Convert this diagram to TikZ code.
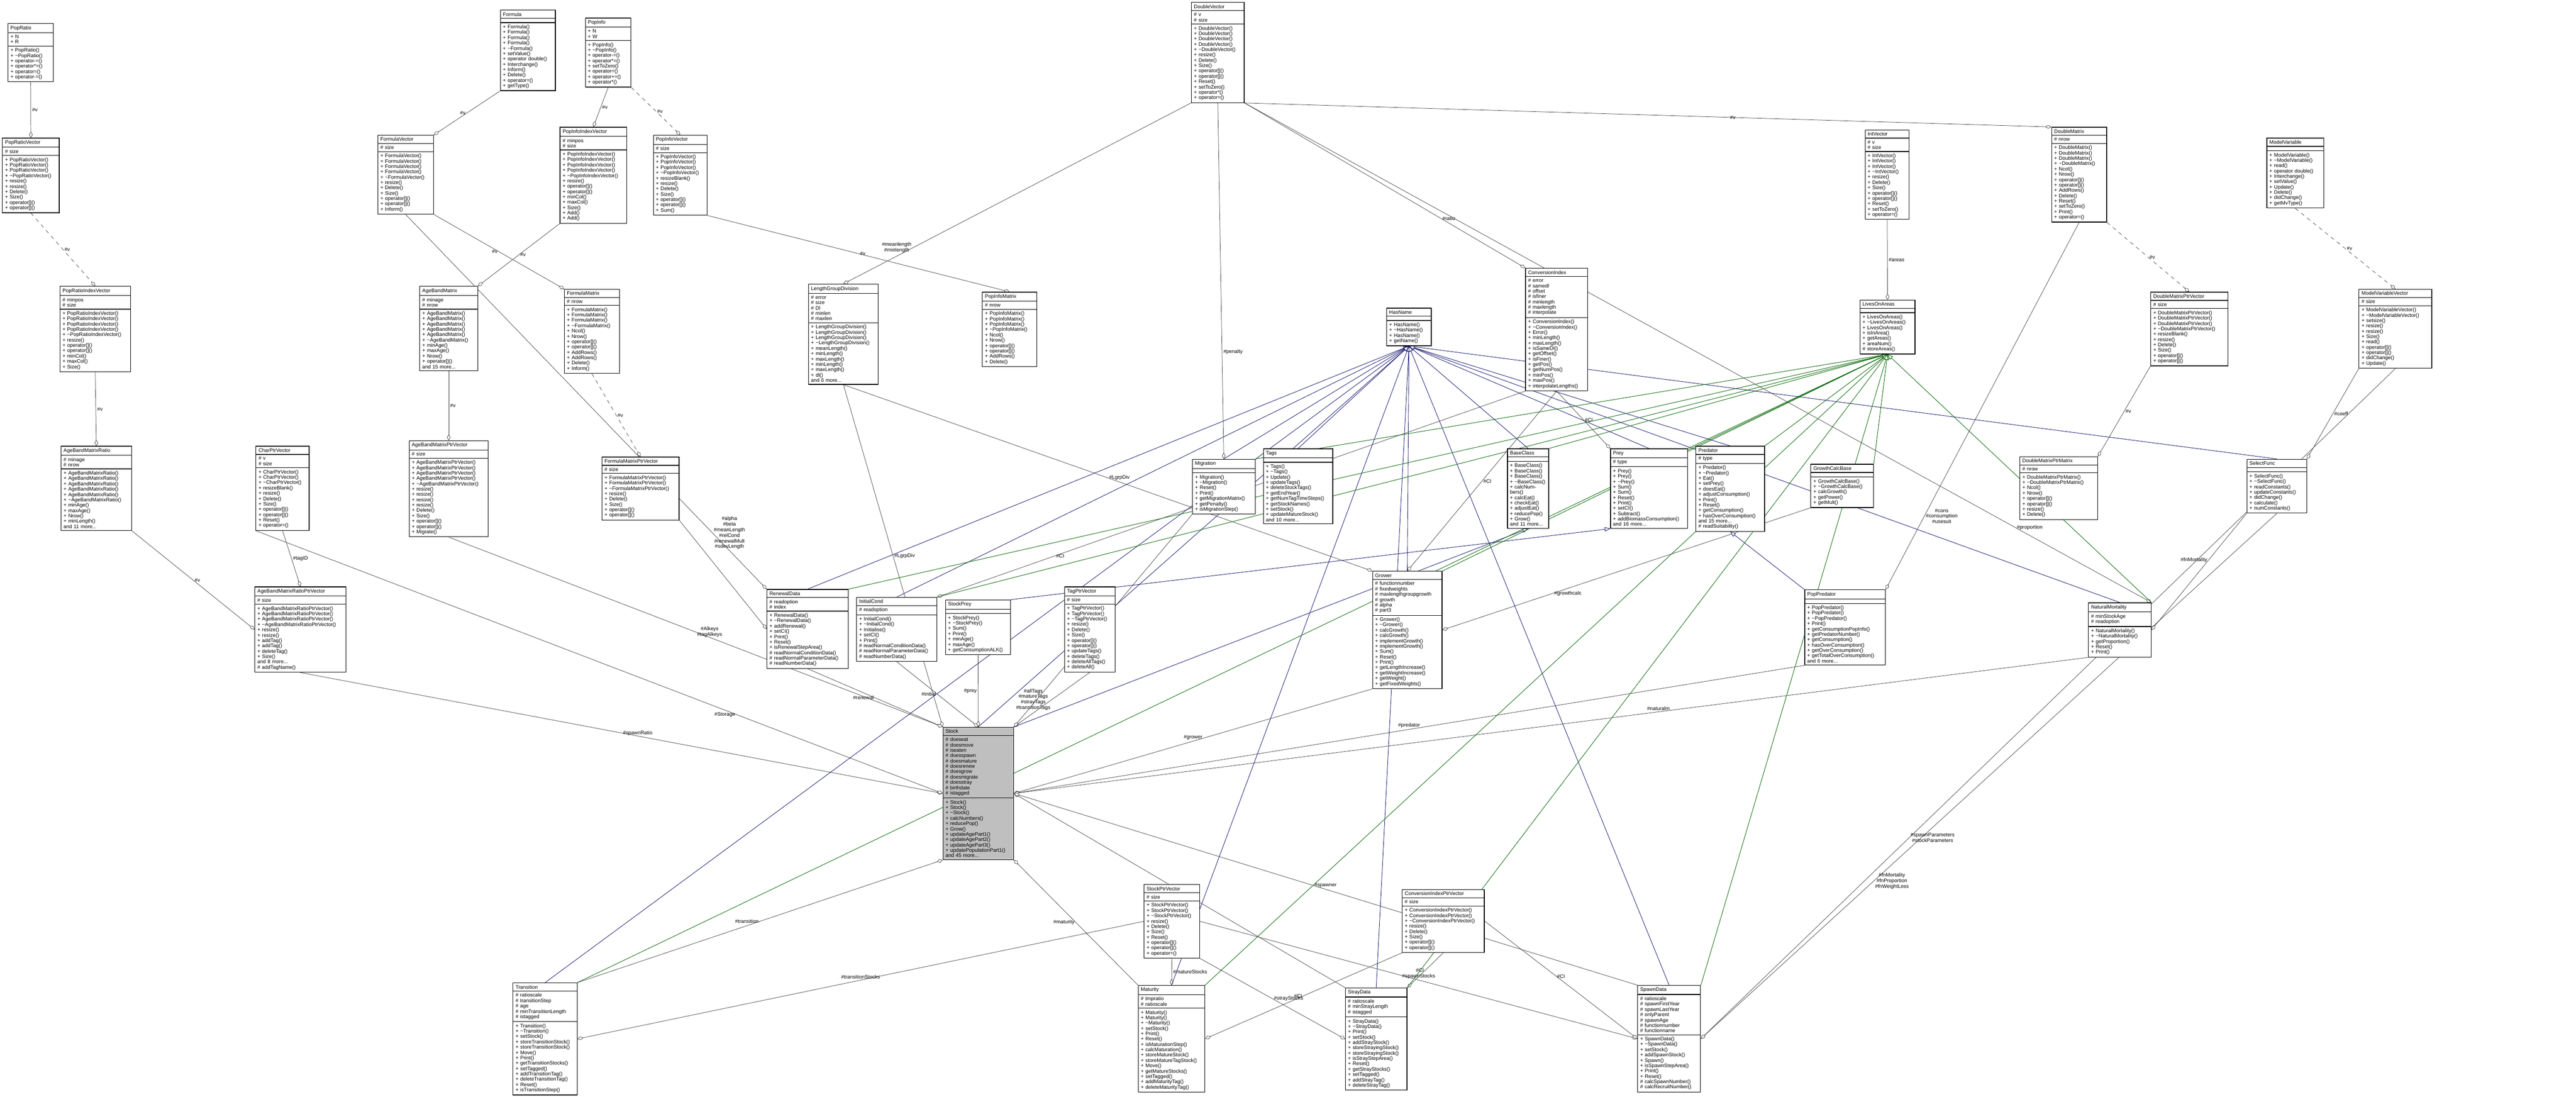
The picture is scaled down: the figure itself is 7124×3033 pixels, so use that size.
\documentclass[tikz,border=0pt]{standalone}
\usepackage{fontspec}
\setmainfont{Liberation Sans}
\usetikzlibrary{shapes.multipart,arrows.meta,backgrounds}
\newlength\pxu \setlength\pxu{0.01cm}
\definecolor{edgec}{HTML}{404040}
\definecolor{inhb}{HTML}{191970}
\definecolor{inhg}{HTML}{006400}
\definecolor{stockfill}{HTML}{BFBFBF}
\tikzset{
 umlcls/.style={draw=black, line width=0.5pt, fill=white, rectangle split, rectangle split parts=3, anchor=north west, inner xsep=2pt, inner ysep=1.5pt, font=\fontsize{4}{4.2}\selectfont},
 agg/.style={draw=edgec, line width=0.3pt, -{Diamond[open,fill=white,length=0.17cm,width=0.1cm]}},
 aggd/.style={agg, dashed},
 inhB/.style={draw=inhb, line width=0.35pt, -{Triangle[open,fill=white,length=0.15cm,width=0.12cm]}},
 inhG/.style={draw=inhg, line width=0.35pt, -{Triangle[open,fill=white,length=0.15cm,width=0.12cm]}},
 lbl/.style={font=\fontsize{4}{4.4}\selectfont, align=center, inner sep=1pt}
}
\newcommand\umlbox[8][]{\node[umlcls,#1,text width=#5\pxu] (#2) at (#3,#4) {\centering #6\nodepart{two}#7\nodepart{three}#8};}
\begin{document}
\begin{tikzpicture}[x=0.01cm,y=-0.01cm]
\useasboundingbox (0,0) rectangle (7124,3033);
% ---------------- classes ----------------
\umlbox{PopRatio}{21}{64}{112}{PopRatio}{+ N\\+ R}{+ PopRatio()\\+ \textasciitilde PopRatio()\\+ operator-=()\\+ operator*=()\\+ operator=()\\+ operator-=()}
\umlbox{Formula}{1383}{27}{138}{Formula}{~}{+ Formula()\\+ Formula()\\+ Formula()\\+ Formula()\\+ \textasciitilde Formula()\\+ setValue()\\+ operator double()\\+ Interchange()\\+ Inform()\\+ Delete()\\+ operator=()\\+ getType()}
\umlbox{PopInfo}{1618}{49}{112}{PopInfo}{+ N\\+ W}{+ PopInfo()\\+ \textasciitilde PopInfo()\\+ operator-=()\\+ operator*=()\\+ setToZero()\\+ operator=()\\+ operator+=()\\+ operator*()}
\umlbox{PopRatioVector}{6}{381}{143}{PopRatioVector}{\# size}{+ PopRatioVector()\\+ PopRatioVector()\\+ PopRatioVector()\\+ \textasciitilde PopRatioVector()\\+ resize()\\+ resize()\\+ Delete()\\+ Size()\\+ operator[]()\\+ operator[]()}
\umlbox{FormulaVector}{1044}{373}{140}{FormulaVector}{\# size}{+ FormulaVector()\\+ FormulaVector()\\+ FormulaVector()\\+ FormulaVector()\\+ \textasciitilde FormulaVector()\\+ resize()\\+ Delete()\\+ Size()\\+ operator[]()\\+ operator[]()\\+ Inform()}
\umlbox{PopInfoIndexVector}{1548}{351}{170}{PopInfoIndexVector}{\# minpos\\\# size}{+ PopInfoIndexVector()\\+ PopInfoIndexVector()\\+ PopInfoIndexVector()\\+ PopInfoIndexVector()\\+ \textasciitilde PopInfoIndexVector()\\+ resize()\\+ operator[]()\\+ operator[]()\\+ minCol()\\+ maxCol()\\+ Size()\\+ Add()\\+ Add()}
\umlbox{PopInfoVector}{1806}{373}{135}{PopInfoVector}{\# size}{+ PopInfoVector()\\+ PopInfoVector()\\+ PopInfoVector()\\+ \textasciitilde PopInfoVector()\\+ resizeBlank()\\+ resize()\\+ Delete()\\+ Size()\\+ operator[]()\\+ operator[]()\\+ Sum()}
\umlbox{PopRatioIndexVector}{165}{791}{181}{PopRatioIndexVector}{\# minpos\\\# size}{+ PopRatioIndexVector()\\+ PopRatioIndexVector()\\+ PopRatioIndexVector()\\+ PopRatioIndexVector()\\+ \textasciitilde PopRatioIndexVector()\\+ resize()\\+ operator[]()\\+ operator[]()\\+ minCol()\\+ maxCol()\\+ Size()}
\umlbox{AgeBandMatrix}{1160}{791}{146}{AgeBandMatrix}{\# minage\\\# nrow}{+ AgeBandMatrix()\\+ AgeBandMatrix()\\+ AgeBandMatrix()\\+ AgeBandMatrix()\\+ AgeBandMatrix()\\+ \textasciitilde AgeBandMatrix()\\+ minAge()\\+ maxAge()\\+ Nrow()\\+ operator[]()\\and 15 more...}
\umlbox{FormulaMatrix}{1560}{799}{138}{FormulaMatrix}{\# nrow}{+ FormulaMatrix()\\+ FormulaMatrix()\\+ FormulaMatrix()\\+ \textasciitilde FormulaMatrix()\\+ Ncol()\\+ Nrow()\\+ operator[]()\\+ operator[]()\\+ AddRows()\\+ AddRows()\\+ Delete()\\+ Inform()}
\umlbox{LengthGroupDivision}{2235}{785}{179}{LengthGroupDivision}{\# error\\\# size\\\# Dl\\\# minlen\\\# maxlen}{+ LengthGroupDivision()\\+ LengthGroupDivision()\\+ LengthGroupDivision()\\+ \textasciitilde LengthGroupDivision()\\+ meanLength()\\+ minLength()\\+ maxLength()\\+ minLength()\\+ maxLength()\\+ dl()\\and 6 more...}
\umlbox{DoubleVector}{3294}{6}{132}{DoubleVector}{\# v\\\# size}{+ DoubleVector()\\+ DoubleVector()\\+ DoubleVector()\\+ DoubleVector()\\+ \textasciitilde DoubleVector()\\+ resize()\\+ Delete()\\+ Size()\\+ operator[]()\\+ operator[]()\\+ Reset()\\+ setToZero()\\+ operator*()\\+ operator=()}
\umlbox{PopInfoMatrix}{2716}{807}{136}{PopInfoMatrix}{\# nrow}{+ PopInfoMatrix()\\+ PopInfoMatrix()\\+ PopInfoMatrix()\\+ \textasciitilde PopInfoMatrix()\\+ Ncol()\\+ Nrow()\\+ operator[]()\\+ operator[]()\\+ AddRows()\\+ Delete()}
\umlbox{HasName}{3834}{851}{109}{HasName}{~}{+ HasName()\\+ \textasciitilde HasName()\\+ HasName()\\+ getName()}
\umlbox{ConversionIndex}{4218}{741}{158}{ConversionIndex}{\# error\\\# samedl\\\# offset\\\# isfiner\\\# minlength\\\# maxlength\\\# interpolate}{+ ConversionIndex()\\+ \textasciitilde ConversionIndex()\\+ Error()\\+ minLength()\\+ maxLength()\\+ isSameDl()\\+ getOffset()\\+ isFiner()\\+ getPos()\\+ getNumPos()\\+ minPos()\\+ maxPos()\\+ interpolateLengths()}
\umlbox{IntVector}{5157}{359}{108}{IntVector}{\# v\\\# size}{+ IntVector()\\+ IntVector()\\+ IntVector()\\+ \textasciitilde IntVector()\\+ resize()\\+ Delete()\\+ Size()\\+ operator[]()\\+ operator[]()\\+ Reset()\\+ setToZero()\\+ operator=()}
\umlbox{DoubleMatrix}{5673}{351}{138}{DoubleMatrix}{\# nrow}{+ DoubleMatrix()\\+ DoubleMatrix()\\+ DoubleMatrix()\\+ \textasciitilde DoubleMatrix()\\+ Ncol()\\+ Nrow()\\+ operator[]()\\+ operator[]()\\+ AddRows()\\+ Delete()\\+ Reset()\\+ setToZero()\\+ Print()\\+ operator=()}
\umlbox{ModelVariable}{6268}{381}{143}{ModelVariable}{~}{+ ModelVariable()\\+ \textasciitilde ModelVariable()\\+ read()\\+ operator double()\\+ Interchange()\\+ setValue()\\+ Update()\\+ Delete()\\+ didChange()\\+ getMvType()}
\umlbox{LivesOnAreas}{5143}{829}{138}{LivesOnAreas}{~}{+ LivesOnAreas()\\+ \textasciitilde LivesOnAreas()\\+ LivesOnAreas()\\+ isInArea()\\+ getAreas()\\+ areaNum()\\\# storeAreas()}
\umlbox{DoubleMatrixPtrVector}{5947}{807}{199}{DoubleMatrixPtrVector}{\# size}{+ DoubleMatrixPtrVector()\\+ DoubleMatrixPtrVector()\\+ DoubleMatrixPtrVector()\\+ \textasciitilde DoubleMatrixPtrVector()\\+ resizeBlank()\\+ resize()\\+ Delete()\\+ Size()\\+ operator[]()\\+ operator[]()}
\umlbox{ModelVariableVector}{6523}{799}{187}{ModelVariableVector}{\# size}{+ ModelVariableVector()\\+ \textasciitilde ModelVariableVector()\\+ setsize()\\+ resize()\\+ resize()\\+ Size()\\+ read()\\+ operator[]()\\+ operator[]()\\+ didChange()\\+ Update()}
\umlbox{AgeBandMatrixRatio}{168}{1233}{181}{AgeBandMatrixRatio}{\# minage\\\# nrow}{+ AgeBandMatrixRatio()\\+ AgeBandMatrixRatio()\\+ AgeBandMatrixRatio()\\+ AgeBandMatrixRatio()\\+ AgeBandMatrixRatio()\\+ \textasciitilde AgeBandMatrixRatio()\\+ minAge()\\+ maxAge()\\+ Nrow()\\+ minLength()\\and 11 more...}
\umlbox{CharPtrVector}{707}{1233}{133}{CharPtrVector}{\# v\\\# size}{+ CharPtrVector()\\+ CharPtrVector()\\+ \textasciitilde CharPtrVector()\\+ resizeBlank()\\+ resize()\\+ Delete()\\+ Size()\\+ operator[]()\\+ operator[]()\\+ Reset()\\+ operator=()}
\umlbox{AgeBandMatrixPtrVector}{1131}{1218}{204}{AgeBandMatrixPtrVector}{\# size}{+ AgeBandMatrixPtrVector()\\+ AgeBandMatrixPtrVector()\\+ AgeBandMatrixPtrVector()\\+ AgeBandMatrixPtrVector()\\+ \textasciitilde AgeBandMatrixPtrVector()\\+ resize()\\+ resize()\\+ resize()\\+ resize()\\+ Delete()\\+ Size()\\+ operator[]()\\+ operator[]()\\+ Migrate()}
\umlbox{FormulaMatrixPtrVector}{1664}{1263}{199}{FormulaMatrixPtrVector}{\# size}{+ FormulaMatrixPtrVector()\\+ FormulaMatrixPtrVector()\\+ \textasciitilde FormulaMatrixPtrVector()\\+ resize()\\+ Delete()\\+ Size()\\+ operator[]()\\+ operator[]()}
\umlbox{AgeBandMatrixRatioPtrVector}{704}{1622}{238}{AgeBandMatrixRatioPtrVector}{\# size}{+ AgeBandMatrixRatioPtrVector()\\+ AgeBandMatrixRatioPtrVector()\\+ AgeBandMatrixRatioPtrVector()\\+ \textasciitilde AgeBandMatrixRatioPtrVector()\\+ resize()\\+ resize()\\+ addTag()\\+ addTag()\\+ deleteTag()\\+ Size()\\and 8 more...\\\# addTagName()}
\umlbox{RenewalData}{2120}{1629}{211}{RenewalData}{\# readoption\\\# index}{+ RenewalData()\\+ \textasciitilde RenewalData()\\+ addRenewal()\\+ setCI()\\+ Print()\\+ Reset()\\+ isRenewalStepArea()\\\# readNormalConditionData()\\\# readNormalParameterData()\\\# readNumberData()}
\umlbox{InitialCond}{2368}{1651}{208}{InitialCond}{\# readoption}{+ InitialCond()\\+ \textasciitilde InitialCond()\\+ Initialise()\\+ setCI()\\+ Print()\\\# readNormalConditionData()\\\# readNormalParameterData()\\\# readNumberData()}
\umlbox{StockPrey}{2614}{1658}{166}{StockPrey}{~}{+ StockPrey()\\+ \textasciitilde StockPrey()\\+ Sum()\\+ Print()\\+ minAge()\\+ maxAge()\\+ getConsumptionALK()}
\umlbox{TagPtrVector}{2943}{1622}{126}{TagPtrVector}{\# size}{+ TagPtrVector()\\+ TagPtrVector()\\+ \textasciitilde TagPtrVector()\\+ resize()\\+ Delete()\\+ Size()\\+ operator[]()\\+ operator[]()\\+ updateTags()\\+ deleteTags()\\+ deleteAllTags()\\+ deleteAll()}
\umlbox{Migration}{3297}{1269}{159}{Migration}{~}{+ Migration()\\+ \textasciitilde Migration()\\+ Reset()\\+ Print()\\+ getMigrationMatrix()\\+ getPenalty()\\+ isMigrationStep()}
\umlbox{Tags}{3493}{1240}{178}{Tags}{~}{+ Tags()\\+ \textasciitilde Tags()\\+ Update()\\+ updateTags()\\+ deleteStockTags()\\+ getEndYear()\\+ getNumTagTimeSteps()\\+ getStockNames()\\+ setStock()\\+ updateMatureStock()\\and 10 more...}
\umlbox{BaseClass}{4168}{1240}{100}{BaseClass}{~}{+ BaseClass()\\+ BaseClass()\\+ BaseClass()\\+ \textasciitilde BaseClass()\\+ calcNumbers()\\+ calcEat()\\+ checkEat()\\+ adjustEat()\\+ reducePop()\\+ Grow()\\and 11 more...}
\umlbox{Prey}{4453}{1240}{199}{Prey}{\# type}{+ Prey()\\+ Prey()\\+ \textasciitilde Prey()\\+ Sum()\\+ Sum()\\+ Reset()\\+ Print()\\+ setCI()\\+ Subtract()\\+ addBiomassConsumption()\\and 16 more...}
\umlbox{Predator}{4689}{1233}{176}{Predator}{\# type}{+ Predator()\\+ \textasciitilde Predator()\\+ Eat()\\+ setPrey()\\+ doesEat()\\+ adjustConsumption()\\+ Print()\\+ Reset()\\+ getConsumption()\\+ hasOverConsumption()\\and 15 more...\\\# readSuitability()}
\umlbox{Grower}{3795}{1579}{178}{Grower}{\# functionnumber\\\# fixedweights\\\# maxlengthgroupgrowth\\\# growth\\\# alpha\\\# part3}{+ Grower()\\+ \textasciitilde Grower()\\+ calcGrowth()\\+ calcGrowth()\\+ implementGrowth()\\+ implementGrowth()\\+ Sum()\\+ Reset()\\+ Print()\\+ getLengthIncrease()\\+ getWeightIncrease()\\+ getWeight()\\+ getFixedWeights()}
\umlbox{GrowthCalcBase}{5007}{1283}{159}{GrowthCalcBase}{~}{+ GrowthCalcBase()\\+ \textasciitilde GrowthCalcBase()\\+ calcGrowth()\\+ getPower()\\+ getMult()}
\umlbox{DoubleMatrixPtrMatrix}{5585}{1262}{201}{DoubleMatrixPtrMatrix}{\# nrow}{+ DoubleMatrixPtrMatrix()\\+ \textasciitilde DoubleMatrixPtrMatrix()\\+ Ncol()\\+ Nrow()\\+ operator[]()\\+ operator[]()\\+ resize()\\+ Delete()}
\umlbox{SelectFunc}{6213}{1269}{151}{SelectFunc}{~}{+ SelectFunc()\\+ \textasciitilde SelectFunc()\\+ readConstants()\\+ updateConstants()\\+ didChange()\\+ calculate()\\+ numConstants()}
\umlbox{PopPredator}{4990}{1630}{209}{PopPredator}{~}{+ PopPredator()\\+ PopPredator()\\+ \textasciitilde PopPredator()\\+ Print()\\+ getConsumptionPopInfo()\\+ getPredatorNumber()\\+ getConsumption()\\+ hasOverConsumption()\\+ getOverConsumption()\\+ getTotalOverConsumption()\\and 6 more...}
\umlbox{NaturalMortality}{5775}{1666}{159}{NaturalMortality}{\# minStockAge\\\# readoption}{+ NaturalMortality()\\+ \textasciitilde NaturalMortality()\\+ getProportion()\\+ Reset()\\+ Print()}
\umlbox[fill=stockfill]{Stock}{2607}{2010}{181}{Stock}{\# doeseat\\\# doesmove\\\# iseaten\\\# doesspawn\\\# doesmature\\\# doesrenew\\\# doesgrow\\\# doesmigrate\\\# doesstray\\\# birthdate\\\# istagged}{+ Stock()\\+ Stock()\\+ \textasciitilde Stock()\\+ calcNumbers()\\+ reducePop()\\+ Grow()\\+ updateAgePart1()\\+ updateAgePart2()\\+ updateAgePart3()\\+ updatePopulationPart1()\\and 45 more...}
\umlbox{StockPtrVector}{3163}{2445}{140}{StockPtrVector}{\# size}{+ StockPtrVector()\\+ StockPtrVector()\\+ \textasciitilde StockPtrVector()\\+ resize()\\+ Delete()\\+ Size()\\+ Reset()\\+ operator[]()\\+ operator[]()\\+ operator=()}
\umlbox{ConversionIndexPtrVector}{3877}{2459}{213}{ConversionIndexPtrVector}{\# size}{+ ConversionIndexPtrVector()\\+ ConversionIndexPtrVector()\\+ \textasciitilde ConversionIndexPtrVector()\\+ resize()\\+ Delete()\\+ Size()\\+ operator[]()\\+ operator[]()}
\umlbox{Transition}{1418}{2717}{163}{Transition}{\# ratioscale\\\# transitionStep\\\# age\\\# minTransitionLength\\\# istagged}{+ Transition()\\+ \textasciitilde Transition()\\+ setStock()\\+ storeTransitionStock()\\+ storeTransitionStock()\\+ Move()\\+ Print()\\+ getTransitionStocks()\\+ setTagged()\\+ addTransitionTag()\\+ deleteTransitionTag()\\+ Reset()\\+ isTransitionStep()}
\umlbox{Maturity}{3147}{2724}{170}{Maturity}{\# tmpratio\\\# ratioscale}{+ Maturity()\\+ Maturity()\\+ \textasciitilde Maturity()\\+ setStock()\\+ Print()\\+ Reset()\\+ isMaturationStep()\\+ calcMaturation()\\+ storeMatureStock()\\+ storeMatureTagStock()\\+ Move()\\+ getMatureStocks()\\+ setTagged()\\+ addMaturityTag()\\+ deleteMaturityTag()}
\umlbox{StrayData}{3720}{2731}{156}{StrayData}{\# ratioscale\\\# minStrayLength\\\# istagged}{+ StrayData()\\+ \textasciitilde StrayData()\\+ Print()\\+ setStock()\\+ addStrayStock()\\+ storeStrayingStock()\\+ storeStrayingStock()\\+ isStrayStepArea()\\+ Reset()\\+ getStrayStocks()\\+ setTagged()\\+ addStrayTag()\\+ deleteStrayTag()}
\umlbox{SpawnData}{4528}{2724}{160}{SpawnData}{\# ratioscale\\\# spawnFirstYear\\\# spawnLastYear\\\# onlyParent\\\# spawnAge\\\# functionnumber\\\# functionname}{+ SpawnData()\\+ \textasciitilde SpawnData()\\+ setStock()\\+ addSpawnStock()\\+ Spawn()\\+ isSpawnStepArea()\\+ Print()\\+ Reset()\\\# calcSpawnNumber()\\\# calcRecruitNumber()}
\begin{scope}[on background layer]
\fill[white] (0,0) rectangle (7124,3033);
% ---------------- template / container edges ----------------
\draw[agg] (PopRatio.south) -- node[lbl,right]{\#v} (PopRatioVector.north);
\draw[aggd] (PopRatioVector.south) -- node[lbl,right]{\#v} (PopRatioIndexVector.north);
\draw[agg] (PopRatioIndexVector.south) -- node[lbl,right]{\#v} (AgeBandMatrixRatio.north);
\draw[agg] (Formula.south west) -- node[lbl,left]{\#v} (FormulaVector.north east);
\draw[agg] (PopInfo.south) -- node[lbl,right]{\#v} (PopInfoIndexVector.north);
\draw[aggd] (PopInfo.south east) -- node[lbl,right]{\#v} (PopInfoVector.north);
\draw[agg] (PopInfoIndexVector.south west) -- node[lbl,right]{\#v} (AgeBandMatrix.north east);
\draw[agg] (FormulaVector.south east) -- node[lbl,left]{\#v} (FormulaMatrix.north west);
\draw[agg] (PopInfoVector.south east) -- node[lbl,right]{\#v} (PopInfoMatrix.north);
\draw[agg] (AgeBandMatrix.south) -- node[lbl,right]{\#v} (AgeBandMatrixPtrVector.north);
\draw[aggd] (FormulaMatrix.south) -- node[lbl,right]{\#v} (FormulaMatrixPtrVector.north);
\draw[agg] (AgeBandMatrixRatio.south east) -- node[lbl,right]{\#v} (AgeBandMatrixRatioPtrVector.west);
\draw[agg] (CharPtrVector.south) -- node[lbl,right]{\#tagID} (AgeBandMatrixRatioPtrVector.north);
\draw[agg] (DoubleVector.south east) -- node[lbl,pos=0.6,right]{\#v} (DoubleMatrix.north west);
\draw[agg] (DoubleVector.south) -- node[lbl,pos=0.7,right]{\#penalty} (Migration.north);
\draw[agg] (DoubleVector.south east) -- node[lbl,pos=0.7,right]{\#ratio} (ConversionIndex.north west);
\draw[agg] (DoubleVector.south west) -- node[lbl,pos=0.8,left]{\#meanlength\\\#minlength} (LengthGroupDivision.north);
\draw[agg] (IntVector.south) -- node[lbl,right]{\#areas} (LivesOnAreas.north);
\draw[aggd] (DoubleMatrix.south east) -- node[lbl,right]{\#v} (DoubleMatrixPtrVector.north);
\draw[aggd] (ModelVariable.south) -- node[lbl,right]{\#v} (ModelVariableVector.north);
\draw[agg] (DoubleMatrixPtrVector.south west) -- node[lbl,right]{\#v} (DoubleMatrixPtrMatrix.north east);
\draw[agg] (ModelVariableVector.south west) -- node[lbl,right]{\#coeff} (SelectFunc.north east);
\draw[agg] (FormulaVector.south) -- node[lbl,pos=0.85,right]{\#alpha\\\#beta\\\#meanLength\\\#relCond\\\#renewalMult\\\#sdevLength} (RenewalData.north west);
\draw[agg] (FormulaMatrixPtrVector.south east) -- (RenewalData.west);
\draw[agg] (LengthGroupDivision.south) -- node[lbl,right]{\#LgrpDiv} (Grower.north west);
\draw[agg] (ConversionIndex.south) -- node[lbl,right]{\#CI} (Grower.north);
\draw[agg] (ConversionIndex.south) -- node[lbl,pos=0.5,right]{\#CI} (Prey.north west);
\draw[agg] (ConversionIndex.south west) -- node[lbl,pos=0.8,right]{\#CI} (InitialCond.north east);
\draw[agg] (GrowthCalcBase.south west) -- node[lbl,pos=0.7,right]{\#growthcalc} (Grower.east);
\draw[agg] (DoubleMatrix.south) -- node[lbl,pos=0.8,right]{\#cons\\\#consumption\\\#usesuit} (PopPredator.north east);
\draw[agg] (SelectFunc.south west) -- node[lbl,pos=0.4,left]{\#fnMortality} (NaturalMortality.east);
\draw[agg] (DoubleVector.south east) -- node[lbl,pos=0.85,right]{\#proportion} (NaturalMortality.north east);
% ---------------- members of Stock ----------------
\draw[agg] (TagPtrVector.south) -- node[lbl,pos=0.5,left]{\#allTags\\\#matureTags\\\#strayTags\\\#transitionTags} (Stock.north east);
\draw[agg] (Grower.south west) -- node[lbl,pos=0.5,above]{\#grower} (Stock.east);
\draw[agg] (Migration.south west) -- node[lbl,pos=0.5,left]{\#migration} (Stock.north east);
\draw[agg] (RenewalData.south) -- node[lbl,pos=0.5,left]{\#renewal} (Stock.north west);
\draw[agg] (InitialCond.south) -- node[lbl,pos=0.5,left]{\#initial} (Stock.north);
\draw[agg] (StockPrey.south) -- node[lbl,pos=0.5,left]{\#prey} (Stock.north);
\draw[agg] (PopPredator.south west) -- node[lbl,pos=0.5,above]{\#predator} (Stock.east);
\draw[agg] (NaturalMortality.south west) -- node[lbl,pos=0.4,above]{\#naturalm} (Stock.east);
\draw[agg] (AgeBandMatrixPtrVector.south) -- node[lbl,pos=0.5,right]{\#Alkeys\\\#tagAlkeys} (Stock.north west);
\draw[agg] (AgeBandMatrixRatioPtrVector.south) -- node[lbl,pos=0.5,right]{\#spawnRatio} (Stock.west);
\draw[agg] (LengthGroupDivision.south) -- node[lbl,pos=0.5,right]{\#LgrpDiv} (Stock.north west);
\draw[agg] (CharPtrVector.south west) -- node[lbl,pos=0.7,left]{\#Storage} (Stock.west);
\draw[agg] (Transition.north east) -- node[lbl,pos=0.5,left]{\#transition} (Stock.south west);
\draw[agg] (Maturity.north west) -- node[lbl,pos=0.5,left]{\#maturity} (Stock.south east);
\draw[agg] (StrayData.north west) -- node[lbl,pos=0.5,right]{\#stray} (Stock.east);
\draw[agg] (SpawnData.north west) -- node[lbl,pos=0.5,above]{\#spawner} (Stock.east);
% ---------------- vectors of stocks / CIs ----------------
\draw[agg] (StockPtrVector.south) -- node[lbl,right]{\#matureStocks} (Maturity.north);
\draw[agg] (StockPtrVector.south east) -- node[lbl,right]{\#strayStocks} (StrayData.west);
\draw[agg] (StockPtrVector.west) -- node[lbl,pos=0.5,above]{\#transitionStocks} (Transition.east);
\draw[agg] (StockPtrVector.east) -- node[lbl,pos=0.5,above]{\#spawnStocks} (SpawnData.west);
\draw[agg] (ConversionIndexPtrVector.south) -- node[lbl,left]{\#CI} (StrayData.north east);
\draw[agg] (ConversionIndexPtrVector.south west) -- node[lbl,left]{\#CI} (Maturity.east);
\draw[agg] (ConversionIndexPtrVector.east) -- node[lbl,above]{\#CI} (SpawnData.west);
\draw[agg] (SelectFunc.south) -- node[lbl,pos=0.7,right]{\#fnMortality\\\#fnProportion\\\#fnWeightLoss} (SpawnData.east);
\draw[agg] (ModelVariableVector.south) -- node[lbl,pos=0.7,right]{\#spawnParameters\\\#stockParameters} (SpawnData.east);
% ---------------- inheritance ----------------
\foreach \c in {Migration,Tags,BaseClass,Prey,Predator,Grower,SelectFunc,RenewalData,InitialCond}
  \draw[inhB] (\c.north) -- (HasName.south);
\foreach \c in {Transition,Maturity,StrayData,SpawnData,NaturalMortality,Stock}
  \draw[inhB] (\c.north) -- (HasName.south);
\draw[inhB] (StockPrey.north east) -- (Prey.south west);
\draw[inhB] (PopPredator.north west) -- (Predator.south);
\draw[inhB] (Stock.north east) -- (BaseClass.south);
\foreach \c in {Migration,BaseClass,Prey,Predator,Grower,RenewalData,InitialCond,NaturalMortality,GrowthCalcBase}
  \draw[inhG] (\c.north east) -- (LivesOnAreas.south);
\foreach \c in {Transition,Maturity,StrayData,SpawnData}
  \draw[inhG] (\c.north east) -- (LivesOnAreas.south);
\end{scope}
\end{tikzpicture}
\end{document}
